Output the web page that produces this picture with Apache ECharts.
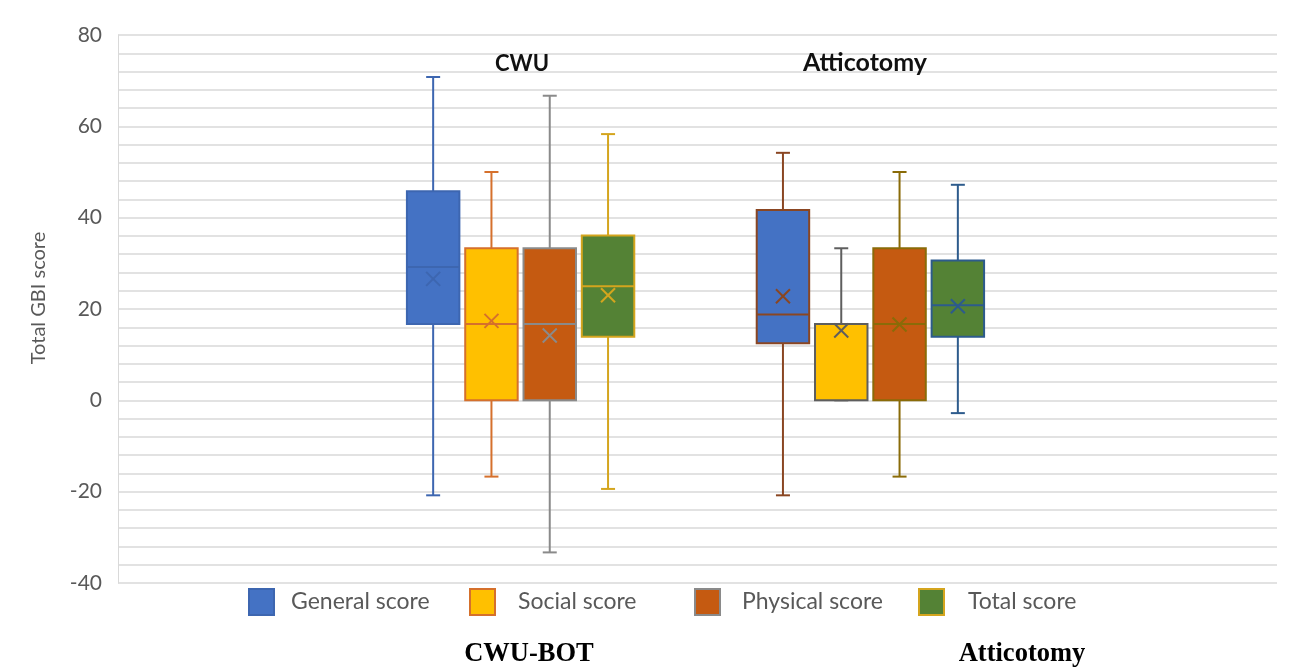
<!DOCTYPE html>
<html>
<head>
<meta charset="utf-8">
<script src="https://cdn.jsdelivr.net/npm/echarts@6/dist/echarts.min.js"></script>
<style>
  html, body { margin: 0; padding: 0; background: #ffffff; }
  #chart { width: 1293px; height: 668px; }
</style>
</head>
<body>
<div id="chart"></div>
<script>
// ---- data ----
const groups = ['CWU', 'Atticotomy'];
const groupCaptions = ['CWU-BOT', 'Atticotomy'];
const scoreNames = ['General score', 'Social score', 'Physical score', 'Total score'];
const yTicks = [-40, -20, 0, 20, 40, 60, 80];

// five-number summaries [min, Q1, median, Q3, max]; first row CWU, second row Atticotomy
const generalScore  = [[-20.8, 16.7, 29.2, 45.8, 70.8], [-20.8, 12.5, 18.8, 41.7, 54.2]];
const socialScore   = [[-16.7, 0, 16.7, 33.3, 50.0],    [0, 0, 16.7, 16.7, 33.3]];
const physicalScore = [[-33.3, 0, 16.7, 33.3, 66.7],    [-16.7, 0, 16.7, 33.3, 50.0]];
const totalScore    = [[-19.4, 13.9, 25.0, 36.1, 58.3], [-2.8, 13.9, 20.8, 30.6, 47.2]];

// group means (the × markers)
const generalMean  = [26.6, 22.8];
const socialMean   = [17.4, 15.3];
const physicalMean = [14.2, 16.6];
const totalMean    = [23.0, 20.6];

// ---- styling ----
const fills = ['#4472C4', '#FFC000', '#C55A11', '#548235'];
const outlines = [
  ['#3D66B0', '#D5702C', '#8A8A8A', '#D4A51E'],   // CWU
  ['#8A4622', '#5E5E5E', '#8A6B08', '#2D5B8C']    // Atticotomy
];
const summaries = [generalScore, socialScore, physicalScore, totalScore];
const means = [generalMean, socialMean, physicalMean, totalMean];

// slot on the box axis: four boxes per group, two empty slots between groups
const slotCount = 10;
const slotOf = (g, s) => g * 6 + s;

const PLOT_TOP = 35, PLOT_H = 548;

function renderBox(params, api) {
  const slot = api.value(0);
  const g = api.value(7);
  const s = params.seriesIndex;
  const stroke = outlines[g][s];
  const fill = fills[s];
  const band = api.size([1, 0])[0];
  const half = band * 0.45;
  const cap = 7;
  const p = (v) => api.coord([slot, v]);
  const cx = p(0)[0];
  const yMin = p(api.value(1))[1];
  const yQ1 = p(api.value(2))[1];
  const yMed = p(api.value(3))[1];
  const yQ3 = p(api.value(4))[1];
  const yMax = p(api.value(5))[1];
  const yMean = p(api.value(6))[1];
  const line = (x1, y1, x2, y2) => ({
    type: 'line', shape: { x1, y1, x2, y2 },
    style: { stroke, lineWidth: 2, fill: null }
  });
  const m = 7;
  return {
    type: 'group',
    children: [
      line(cx, yMax, cx, yQ3),
      line(cx, yQ1, cx, yMin),
      line(cx - cap, yMax, cx + cap, yMax),
      line(cx - cap, yMin, cx + cap, yMin),
      {
        type: 'rect',
        shape: { x: cx - half, y: yQ3, width: half * 2, height: yQ1 - yQ3 },
        style: { fill, stroke, lineWidth: 2 }
      },
      line(cx - half, yMed, cx + half, yMed),
      line(cx - m, yMean - m, cx + m, yMean + m),
      line(cx - m, yMean + m, cx + m, yMean - m)
    ]
  };
}

const series = scoreNames.map((name, s) => ({
  name,
  type: 'custom',
  xAxisIndex: 1,
  yAxisIndex: 1,
  renderItem: renderBox,
  encode: { x: 0, y: [1, 2, 3, 4, 5, 6] },
  itemStyle: { color: fills[s], borderColor: outlines[0][s] },
  data: groups.map((_, g) => [slotOf(g, s), ...summaries[s][g], means[s][g], g])
}));

const legendLeft = [248, 469, 694, 918];
const legendTextGap = [12, 18, 17, 19];
const legends = scoreNames.map((name, s) => ({
  left: legendLeft[s],
  top: 588,
  padding: 0,
  icon: 'rect',
  itemWidth: 25,
  itemHeight: 26,
  selectedMode: false,
  data: [{ name, itemStyle: { color: fills[s], borderColor: outlines[0][s], borderWidth: 2 } }],
  textStyle: { fontFamily: 'Lato', fontSize: 23, color: '#595959', padding: [0, 0, 0, legendTextGap[s]] }
}));

const titleSize = [22, 25];
const titleX = [522, 865];
const titleY = [64, 63];
const captionX = [529, 1022];

const option = {
  backgroundColor: '#ffffff',
  animation: false,
  grid: [
    { left: 118, right: 16, top: PLOT_TOP, height: PLOT_H, containLabel: false },
    { left: 404, width: 583, top: PLOT_TOP, height: PLOT_H, containLabel: false }
  ],
  xAxis: [
    { gridIndex: 0, type: 'value', min: 0, max: 1, show: false },
    { gridIndex: 1, type: 'category', data: Array.from({ length: slotCount }, (_, i) => String(i)), show: false }
  ],
  yAxis: [
    {
      gridIndex: 0,
      type: 'value',
      min: yTicks[0],
      max: yTicks[yTicks.length - 1],
      interval: 4,
      name: 'Total GBI score',
      nameLocation: 'middle',
      nameGap: 69,
      nameRotate: 90,
      nameTextStyle: { fontFamily: 'Lato', fontSize: 20, color: '#595959', padding: [0, 0, 0, 22] },
      axisLine: { show: true, lineStyle: { color: '#d9d9d9', width: 1 } },
      axisTick: { show: false },
      axisLabel: {
        fontFamily: 'Lato', fontSize: 21, color: '#595959', margin: 16,
        formatter: (v) => (yTicks.includes(v) ? String(v) : '')
      },
      splitLine: { show: true, lineStyle: { color: '#d9d9d9', width: 1.5 } }
    },
    {
      gridIndex: 1,
      type: 'value',
      min: yTicks[0],
      max: yTicks[yTicks.length - 1],
      show: false,
      splitLine: { show: false }
    }
  ],
  legend: legends,
  graphic: [
    ...groups.map((t, g) => ({
      type: 'text', x: titleX[g], y: titleY[g], z: 100,
      style: {
        text: t, align: 'center', verticalAlign: 'middle',
        fontFamily: 'Lato', fontWeight: 'bold', fontSize: titleSize[g], fill: '#111111'
      }
    })),
    ...groupCaptions.map((t, g) => ({
      type: 'text', x: captionX[g], y: 654, z: 100,
      style: {
        text: t, align: 'center', verticalAlign: 'middle',
        fontFamily: 'Liberation Serif', fontWeight: 'bold', fontSize: 26.5, fill: '#000000'
      }
    }))
  ],
  series
};

const chart = echarts.init(document.getElementById('chart'), null, { renderer: 'canvas' });
chart.setOption(option);
</script>
</body>
</html>
